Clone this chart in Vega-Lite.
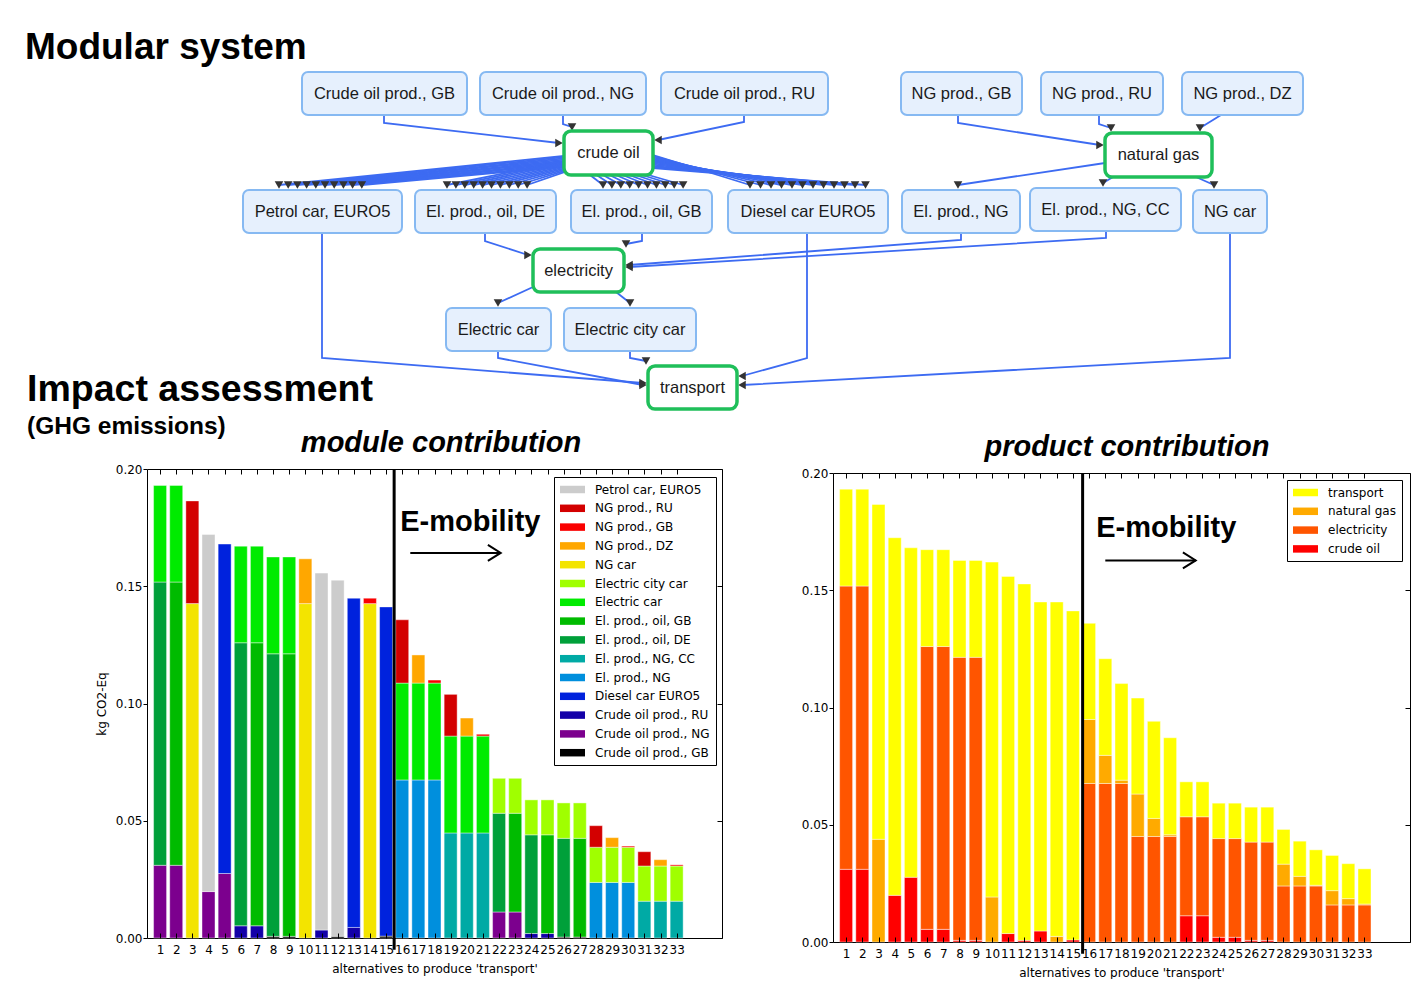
{
  "$schema": "https://vega.github.io/schema/vega-lite/v6.json",
  "padding": 0,
  "background": "white",
  "spacing": 9,
  "bounds": "flush",
  "config": {
    "view": {"stroke": "black", "strokeWidth": 1},
    "axis": {"labelFont": "DejaVu Sans", "titleFont": "DejaVu Sans", "labelFontSize": 12, "titleFontSize": 12, "labelColor": "black", "titleColor": "black", "titleFontWeight": "normal", "domain": false, "grid": false, "tickColor": "black", "tickWidth": 1, "labelOverlap": false, "labelFlush": false}
  },
  "datasets": {
    "modules": [
      {"alt": 1, "module": "Crude oil prod., NG", "kg": 0.031}, {"alt": 1, "module": "El. prod., oil, DE", "kg": 0.1208}, {"alt": 1, "module": "Electric car", "kg": 0.0412},
      {"alt": 2, "module": "Crude oil prod., NG", "kg": 0.031}, {"alt": 2, "module": "El. prod., oil, GB", "kg": 0.1208}, {"alt": 2, "module": "Electric car", "kg": 0.0412},
      {"alt": 3, "module": "NG car", "kg": 0.1426}, {"alt": 3, "module": "NG prod., RU", "kg": 0.0438},
      {"alt": 4, "module": "Crude oil prod., NG", "kg": 0.0198}, {"alt": 4, "module": "Petrol car, EURO5", "kg": 0.1523},
      {"alt": 5, "module": "Crude oil prod., NG", "kg": 0.0275}, {"alt": 5, "module": "Diesel car EURO5", "kg": 0.1405},
      {"alt": 6, "module": "Crude oil prod., RU", "kg": 0.0052}, {"alt": 6, "module": "El. prod., oil, DE", "kg": 0.1207}, {"alt": 6, "module": "Electric car", "kg": 0.0412},
      {"alt": 7, "module": "Crude oil prod., RU", "kg": 0.0052}, {"alt": 7, "module": "El. prod., oil, GB", "kg": 0.1207}, {"alt": 7, "module": "Electric car", "kg": 0.0412},
      {"alt": 8, "module": "Crude oil prod., GB", "kg": 0.0007}, {"alt": 8, "module": "El. prod., oil, DE", "kg": 0.1205}, {"alt": 8, "module": "Electric car", "kg": 0.0413},
      {"alt": 9, "module": "Crude oil prod., GB", "kg": 0.0007}, {"alt": 9, "module": "El. prod., oil, GB", "kg": 0.1205}, {"alt": 9, "module": "Electric car", "kg": 0.0413},
      {"alt": 10, "module": "NG car", "kg": 0.1426}, {"alt": 10, "module": "NG prod., DZ", "kg": 0.0191},
      {"alt": 11, "module": "Crude oil prod., RU", "kg": 0.0034}, {"alt": 11, "module": "Petrol car, EURO5", "kg": 0.1522},
      {"alt": 12, "module": "Crude oil prod., GB", "kg": 0.0007}, {"alt": 12, "module": "Petrol car, EURO5", "kg": 0.1519},
      {"alt": 13, "module": "Crude oil prod., RU", "kg": 0.0045}, {"alt": 13, "module": "Diesel car EURO5", "kg": 0.1404},
      {"alt": 14, "module": "NG car", "kg": 0.1426}, {"alt": 14, "module": "NG prod., GB", "kg": 0.0023},
      {"alt": 15, "module": "Crude oil prod., GB", "kg": 0.0008}, {"alt": 15, "module": "Diesel car EURO5", "kg": 0.1404},
      {"alt": 16, "module": "El. prod., NG", "kg": 0.0674}, {"alt": 16, "module": "Electric car", "kg": 0.0413}, {"alt": 16, "module": "NG prod., RU", "kg": 0.027},
      {"alt": 17, "module": "El. prod., NG", "kg": 0.0674}, {"alt": 17, "module": "Electric car", "kg": 0.0413}, {"alt": 17, "module": "NG prod., DZ", "kg": 0.012},
      {"alt": 18, "module": "El. prod., NG", "kg": 0.0674}, {"alt": 18, "module": "Electric car", "kg": 0.0413}, {"alt": 18, "module": "NG prod., GB", "kg": 0.0013},
      {"alt": 19, "module": "El. prod., NG, CC", "kg": 0.0448}, {"alt": 19, "module": "Electric car", "kg": 0.0413}, {"alt": 19, "module": "NG prod., RU", "kg": 0.0178},
      {"alt": 20, "module": "El. prod., NG, CC", "kg": 0.0448}, {"alt": 20, "module": "Electric car", "kg": 0.0413}, {"alt": 20, "module": "NG prod., DZ", "kg": 0.0077},
      {"alt": 21, "module": "El. prod., NG, CC", "kg": 0.0448}, {"alt": 21, "module": "Electric car", "kg": 0.0413}, {"alt": 21, "module": "NG prod., GB", "kg": 0.0008},
      {"alt": 22, "module": "Crude oil prod., NG", "kg": 0.0111}, {"alt": 22, "module": "El. prod., oil, DE", "kg": 0.0421}, {"alt": 22, "module": "Electric city car", "kg": 0.0149},
      {"alt": 23, "module": "Crude oil prod., NG", "kg": 0.0111}, {"alt": 23, "module": "El. prod., oil, GB", "kg": 0.0421}, {"alt": 23, "module": "Electric city car", "kg": 0.0149},
      {"alt": 24, "module": "Crude oil prod., RU", "kg": 0.0019}, {"alt": 24, "module": "El. prod., oil, DE", "kg": 0.0421}, {"alt": 24, "module": "Electric city car", "kg": 0.0149},
      {"alt": 25, "module": "Crude oil prod., RU", "kg": 0.0019}, {"alt": 25, "module": "El. prod., oil, GB", "kg": 0.0421}, {"alt": 25, "module": "Electric city car", "kg": 0.0149},
      {"alt": 26, "module": "Crude oil prod., GB", "kg": 0.0004}, {"alt": 26, "module": "El. prod., oil, DE", "kg": 0.0421}, {"alt": 26, "module": "Electric city car", "kg": 0.0151},
      {"alt": 27, "module": "Crude oil prod., GB", "kg": 0.0004}, {"alt": 27, "module": "El. prod., oil, GB", "kg": 0.0421}, {"alt": 27, "module": "Electric city car", "kg": 0.0151},
      {"alt": 28, "module": "El. prod., NG", "kg": 0.0237}, {"alt": 28, "module": "Electric city car", "kg": 0.015}, {"alt": 28, "module": "NG prod., RU", "kg": 0.0092},
      {"alt": 29, "module": "El. prod., NG", "kg": 0.0237}, {"alt": 29, "module": "Electric city car", "kg": 0.015}, {"alt": 29, "module": "NG prod., DZ", "kg": 0.0041},
      {"alt": 30, "module": "El. prod., NG", "kg": 0.0237}, {"alt": 30, "module": "Electric city car", "kg": 0.015}, {"alt": 30, "module": "NG prod., GB", "kg": 0.0005},
      {"alt": 31, "module": "El. prod., NG, CC", "kg": 0.0157}, {"alt": 31, "module": "Electric city car", "kg": 0.015}, {"alt": 31, "module": "NG prod., RU", "kg": 0.0061},
      {"alt": 32, "module": "El. prod., NG, CC", "kg": 0.0157}, {"alt": 32, "module": "Electric city car", "kg": 0.015}, {"alt": 32, "module": "NG prod., DZ", "kg": 0.0027},
      {"alt": 33, "module": "El. prod., NG, CC", "kg": 0.0157}, {"alt": 33, "module": "Electric city car", "kg": 0.015}, {"alt": 33, "module": "NG prod., GB", "kg": 0.0005}
    ],
    "products": [
      {"alt": 1, "product": "crude oil", "kg": 0.031}, {"alt": 1, "product": "electricity", "kg": 0.1208}, {"alt": 1, "product": "transport", "kg": 0.0413},
      {"alt": 2, "product": "crude oil", "kg": 0.031}, {"alt": 2, "product": "electricity", "kg": 0.1208}, {"alt": 2, "product": "transport", "kg": 0.0413},
      {"alt": 3, "product": "natural gas", "kg": 0.0438}, {"alt": 3, "product": "transport", "kg": 0.1428},
      {"alt": 4, "product": "crude oil", "kg": 0.0199}, {"alt": 4, "product": "transport", "kg": 0.1525},
      {"alt": 5, "product": "crude oil", "kg": 0.0276}, {"alt": 5, "product": "transport", "kg": 0.1405},
      {"alt": 6, "product": "crude oil", "kg": 0.0054}, {"alt": 6, "product": "electricity", "kg": 0.1206}, {"alt": 6, "product": "transport", "kg": 0.0413},
      {"alt": 7, "product": "crude oil", "kg": 0.0054}, {"alt": 7, "product": "electricity", "kg": 0.1206}, {"alt": 7, "product": "transport", "kg": 0.0413},
      {"alt": 8, "product": "crude oil", "kg": 0.0007}, {"alt": 8, "product": "electricity", "kg": 0.1207}, {"alt": 8, "product": "transport", "kg": 0.0413},
      {"alt": 9, "product": "crude oil", "kg": 0.0007}, {"alt": 9, "product": "electricity", "kg": 0.1207}, {"alt": 9, "product": "transport", "kg": 0.0413},
      {"alt": 10, "product": "natural gas", "kg": 0.0192}, {"alt": 10, "product": "transport", "kg": 0.1428},
      {"alt": 11, "product": "crude oil", "kg": 0.0036}, {"alt": 11, "product": "transport", "kg": 0.1523},
      {"alt": 12, "product": "crude oil", "kg": 0.0007}, {"alt": 12, "product": "transport", "kg": 0.152},
      {"alt": 13, "product": "crude oil", "kg": 0.0047}, {"alt": 13, "product": "transport", "kg": 0.1403},
      {"alt": 14, "product": "natural gas", "kg": 0.0024}, {"alt": 14, "product": "transport", "kg": 0.1426},
      {"alt": 15, "product": "crude oil", "kg": 0.0009}, {"alt": 15, "product": "transport", "kg": 0.1403},
      {"alt": 16, "product": "electricity", "kg": 0.0676}, {"alt": 16, "product": "natural gas", "kg": 0.0273}, {"alt": 16, "product": "transport", "kg": 0.041},
      {"alt": 17, "product": "electricity", "kg": 0.0676}, {"alt": 17, "product": "natural gas", "kg": 0.012}, {"alt": 17, "product": "transport", "kg": 0.0412},
      {"alt": 18, "product": "electricity", "kg": 0.0676}, {"alt": 18, "product": "natural gas", "kg": 0.0014}, {"alt": 18, "product": "transport", "kg": 0.0412},
      {"alt": 19, "product": "electricity", "kg": 0.045}, {"alt": 19, "product": "natural gas", "kg": 0.0181}, {"alt": 19, "product": "transport", "kg": 0.0409},
      {"alt": 20, "product": "electricity", "kg": 0.045}, {"alt": 20, "product": "natural gas", "kg": 0.0077}, {"alt": 20, "product": "transport", "kg": 0.0414},
      {"alt": 21, "product": "electricity", "kg": 0.045}, {"alt": 21, "product": "natural gas", "kg": 0.0007}, {"alt": 21, "product": "transport", "kg": 0.0414},
      {"alt": 22, "product": "crude oil", "kg": 0.0112}, {"alt": 22, "product": "electricity", "kg": 0.0422}, {"alt": 22, "product": "transport", "kg": 0.0149},
      {"alt": 23, "product": "crude oil", "kg": 0.0112}, {"alt": 23, "product": "electricity", "kg": 0.0422}, {"alt": 23, "product": "transport", "kg": 0.0149},
      {"alt": 24, "product": "crude oil", "kg": 0.002}, {"alt": 24, "product": "electricity", "kg": 0.0421}, {"alt": 24, "product": "transport", "kg": 0.0151},
      {"alt": 25, "product": "crude oil", "kg": 0.002}, {"alt": 25, "product": "electricity", "kg": 0.0421}, {"alt": 25, "product": "transport", "kg": 0.0151},
      {"alt": 26, "product": "crude oil", "kg": 0.0007}, {"alt": 26, "product": "electricity", "kg": 0.0419}, {"alt": 26, "product": "transport", "kg": 0.0149},
      {"alt": 27, "product": "crude oil", "kg": 0.0007}, {"alt": 27, "product": "electricity", "kg": 0.0419}, {"alt": 27, "product": "transport", "kg": 0.0149},
      {"alt": 28, "product": "electricity", "kg": 0.0239}, {"alt": 28, "product": "natural gas", "kg": 0.0093}, {"alt": 28, "product": "transport", "kg": 0.0148},
      {"alt": 29, "product": "electricity", "kg": 0.0239}, {"alt": 29, "product": "natural gas", "kg": 0.0041}, {"alt": 29, "product": "transport", "kg": 0.015},
      {"alt": 30, "product": "electricity", "kg": 0.0239}, {"alt": 30, "product": "natural gas", "kg": 0.0003}, {"alt": 30, "product": "transport", "kg": 0.0151},
      {"alt": 31, "product": "electricity", "kg": 0.0158}, {"alt": 31, "product": "natural gas", "kg": 0.0061}, {"alt": 31, "product": "transport", "kg": 0.015},
      {"alt": 32, "product": "electricity", "kg": 0.0158}, {"alt": 32, "product": "natural gas", "kg": 0.0027}, {"alt": 32, "product": "transport", "kg": 0.0149},
      {"alt": 33, "product": "electricity", "kg": 0.0158}, {"alt": 33, "product": "natural gas", "kg": 0.0004}, {"alt": 33, "product": "transport", "kg": 0.015}
    ],
    "nodes": [
      {"label": "Crude oil prod., GB", "kind": "process", "x0": 302, "x1": 467, "y0": 72, "y1": 115, "cx": 384.5, "cy": 94},
      {"label": "Crude oil prod., NG", "kind": "process", "x0": 480, "x1": 646, "y0": 72, "y1": 115, "cx": 563, "cy": 94},
      {"label": "Crude oil prod., RU", "kind": "process", "x0": 661, "x1": 828, "y0": 72, "y1": 115, "cx": 744.5, "cy": 94},
      {"label": "NG prod., GB", "kind": "process", "x0": 901, "x1": 1022, "y0": 72, "y1": 115, "cx": 961.5, "cy": 94},
      {"label": "NG prod., RU", "kind": "process", "x0": 1041, "x1": 1163, "y0": 72, "y1": 115, "cx": 1102, "cy": 94},
      {"label": "NG prod., DZ", "kind": "process", "x0": 1182, "x1": 1303, "y0": 72, "y1": 115, "cx": 1242.5, "cy": 94},
      {"label": "crude oil", "kind": "product", "x0": 564, "x1": 653, "y0": 131, "y1": 175, "cx": 608.5, "cy": 153},
      {"label": "natural gas", "kind": "product", "x0": 1105, "x1": 1212, "y0": 133, "y1": 177, "cx": 1158.5, "cy": 155},
      {"label": "Petrol car, EURO5", "kind": "process", "x0": 243, "x1": 402, "y0": 190, "y1": 233, "cx": 322.5, "cy": 212},
      {"label": "El. prod., oil, DE", "kind": "process", "x0": 415, "x1": 556, "y0": 190, "y1": 233, "cx": 485.5, "cy": 212},
      {"label": "El. prod., oil, GB", "kind": "process", "x0": 571, "x1": 712, "y0": 190, "y1": 233, "cx": 641.5, "cy": 212},
      {"label": "Diesel car EURO5", "kind": "process", "x0": 728, "x1": 888, "y0": 190, "y1": 233, "cx": 808, "cy": 212},
      {"label": "El. prod., NG", "kind": "process", "x0": 902, "x1": 1020, "y0": 190, "y1": 233, "cx": 961, "cy": 212},
      {"label": "El. prod., NG, CC", "kind": "process", "x0": 1030, "x1": 1181, "y0": 188, "y1": 231, "cx": 1105.5, "cy": 210},
      {"label": "NG car", "kind": "process", "x0": 1193, "x1": 1267, "y0": 190, "y1": 233, "cx": 1230, "cy": 212},
      {"label": "electricity", "kind": "product", "x0": 533, "x1": 624, "y0": 249, "y1": 292, "cx": 578.5, "cy": 271},
      {"label": "Electric car", "kind": "process", "x0": 446, "x1": 551, "y0": 308, "y1": 351, "cx": 498.5, "cy": 330},
      {"label": "Electric city car", "kind": "process", "x0": 564, "x1": 696, "y0": 308, "y1": 351, "cx": 630, "cy": 330},
      {"label": "transport", "kind": "product", "x0": 648, "x1": 737, "y0": 366, "y1": 409, "cx": 692.5, "cy": 388}
    ],
    "edges": [
      {"e": "e1", "s": 0, "x": 384, "y": 115}, {"e": "e1", "s": 1, "x": 384, "y": 123}, {"e": "e1", "s": 2, "x": 559, "y": 143, "h": "right"},
      {"e": "e2", "s": 0, "x": 563, "y": 115}, {"e": "e2", "s": 1, "x": 563, "y": 124}, {"e": "e2", "s": 2, "x": 572, "y": 127, "h": "down"},
      {"e": "e3", "s": 0, "x": 744, "y": 115}, {"e": "e3", "s": 1, "x": 744, "y": 122}, {"e": "e3", "s": 2, "x": 658, "y": 140, "h": "left"},
      {"e": "e4", "s": 0, "x": 958, "y": 115}, {"e": "e4", "s": 1, "x": 958, "y": 123}, {"e": "e4", "s": 2, "x": 1100, "y": 145, "h": "right"},
      {"e": "e5", "s": 0, "x": 1099, "y": 115}, {"e": "e5", "s": 1, "x": 1099, "y": 124}, {"e": "e5", "s": 2, "x": 1111, "y": 128, "h": "down"},
      {"e": "e6", "s": 0, "x": 1221, "y": 115}, {"e": "e6", "s": 1, "x": 1200, "y": 128, "h": "down"},
      {"e": "e7", "s": 0, "x": 1105, "y": 163}, {"e": "e7", "s": 1, "x": 958, "y": 185, "h": "down"},
      {"e": "e8", "s": 0, "x": 1113, "y": 177}, {"e": "e8", "s": 1, "x": 1103, "y": 183, "h": "down"},
      {"e": "e9", "s": 0, "x": 1196, "y": 177}, {"e": "e9", "s": 1, "x": 1214, "y": 185, "h": "down"},
      {"e": "e10", "s": 0, "x": 485, "y": 233}, {"e": "e10", "s": 1, "x": 485, "y": 241}, {"e": "e10", "s": 2, "x": 528, "y": 255, "h": "right"},
      {"e": "e11", "s": 0, "x": 642, "y": 233}, {"e": "e11", "s": 1, "x": 642, "y": 241}, {"e": "e11", "s": 2, "x": 626, "y": 244, "h": "down"},
      {"e": "e12", "s": 0, "x": 961, "y": 233}, {"e": "e12", "s": 1, "x": 961, "y": 240}, {"e": "e12", "s": 2, "x": 629, "y": 265, "h": "left"},
      {"e": "e13", "s": 0, "x": 1106, "y": 231}, {"e": "e13", "s": 1, "x": 1106, "y": 238}, {"e": "e13", "s": 2, "x": 629, "y": 267, "h": "left"},
      {"e": "e14", "s": 0, "x": 533, "y": 287}, {"e": "e14", "s": 1, "x": 498, "y": 303, "h": "down"},
      {"e": "e15", "s": 0, "x": 616, "y": 292}, {"e": "e15", "s": 1, "x": 630, "y": 303, "h": "down"},
      {"e": "e16", "s": 0, "x": 322, "y": 233}, {"e": "e16", "s": 1, "x": 322, "y": 358}, {"e": "e16", "s": 2, "x": 643, "y": 383, "h": "right"},
      {"e": "e17", "s": 0, "x": 498, "y": 351}, {"e": "e17", "s": 1, "x": 498, "y": 358}, {"e": "e17", "s": 2, "x": 643, "y": 385, "h": "right"},
      {"e": "e18", "s": 0, "x": 630, "y": 351}, {"e": "e18", "s": 1, "x": 630, "y": 358}, {"e": "e18", "s": 2, "x": 646, "y": 361, "h": "down"},
      {"e": "e19", "s": 0, "x": 807, "y": 233}, {"e": "e19", "s": 1, "x": 807, "y": 358}, {"e": "e19", "s": 2, "x": 742, "y": 376, "h": "left"},
      {"e": "e20", "s": 0, "x": 1230, "y": 233}, {"e": "e20", "s": 1, "x": 1230, "y": 358}, {"e": "e20", "s": 2, "x": 742, "y": 385, "h": "left"},
      {"e": "p0", "s": 0, "x": 564, "y": 156}, {"e": "p0", "s": 1, "x": 279, "y": 185, "h": "down"},
      {"e": "p1", "s": 0, "x": 564, "y": 157.2}, {"e": "p1", "s": 1, "x": 288.2, "y": 185, "h": "down"},
      {"e": "p2", "s": 0, "x": 564, "y": 158.4}, {"e": "p2", "s": 1, "x": 297.4, "y": 185, "h": "down"},
      {"e": "p3", "s": 0, "x": 564, "y": 159.6}, {"e": "p3", "s": 1, "x": 306.6, "y": 185, "h": "down"},
      {"e": "p4", "s": 0, "x": 564, "y": 160.8}, {"e": "p4", "s": 1, "x": 315.8, "y": 185, "h": "down"},
      {"e": "p5", "s": 0, "x": 564, "y": 162}, {"e": "p5", "s": 1, "x": 325, "y": 185, "h": "down"},
      {"e": "p6", "s": 0, "x": 564, "y": 163.2}, {"e": "p6", "s": 1, "x": 334.2, "y": 185, "h": "down"},
      {"e": "p7", "s": 0, "x": 564, "y": 164.4}, {"e": "p7", "s": 1, "x": 343.4, "y": 185, "h": "down"},
      {"e": "p8", "s": 0, "x": 564, "y": 165.6}, {"e": "p8", "s": 1, "x": 352.6, "y": 185, "h": "down"},
      {"e": "p9", "s": 0, "x": 564, "y": 166.8}, {"e": "p9", "s": 1, "x": 361.8, "y": 185, "h": "down"},
      {"e": "d0", "s": 0, "x": 565, "y": 161}, {"e": "d0", "s": 1, "x": 447, "y": 185, "h": "down"},
      {"e": "d1", "s": 0, "x": 565, "y": 162.2}, {"e": "d1", "s": 1, "x": 455.9, "y": 185, "h": "down"},
      {"e": "d2", "s": 0, "x": 565, "y": 163.4}, {"e": "d2", "s": 1, "x": 464.8, "y": 185, "h": "down"},
      {"e": "d3", "s": 0, "x": 565, "y": 164.6}, {"e": "d3", "s": 1, "x": 473.7, "y": 185, "h": "down"},
      {"e": "d4", "s": 0, "x": 565, "y": 165.8}, {"e": "d4", "s": 1, "x": 482.6, "y": 185, "h": "down"},
      {"e": "d5", "s": 0, "x": 565, "y": 167}, {"e": "d5", "s": 1, "x": 491.5, "y": 185, "h": "down"},
      {"e": "d6", "s": 0, "x": 565, "y": 168.2}, {"e": "d6", "s": 1, "x": 500.4, "y": 185, "h": "down"},
      {"e": "d7", "s": 0, "x": 565, "y": 169.4}, {"e": "d7", "s": 1, "x": 509.3, "y": 185, "h": "down"},
      {"e": "d8", "s": 0, "x": 565, "y": 170.6}, {"e": "d8", "s": 1, "x": 518.2, "y": 185, "h": "down"},
      {"e": "d9", "s": 0, "x": 565, "y": 171.8}, {"e": "d9", "s": 1, "x": 527.1, "y": 185, "h": "down"},
      {"e": "g0", "s": 0, "x": 590, "y": 175}, {"e": "g0", "s": 1, "x": 603, "y": 185, "h": "down"},
      {"e": "g1", "s": 0, "x": 596.5, "y": 175}, {"e": "g1", "s": 1, "x": 611.9, "y": 185, "h": "down"},
      {"e": "g2", "s": 0, "x": 603, "y": 175}, {"e": "g2", "s": 1, "x": 620.8, "y": 185, "h": "down"},
      {"e": "g3", "s": 0, "x": 609.5, "y": 175}, {"e": "g3", "s": 1, "x": 629.7, "y": 185, "h": "down"},
      {"e": "g4", "s": 0, "x": 616, "y": 175}, {"e": "g4", "s": 1, "x": 638.6, "y": 185, "h": "down"},
      {"e": "g5", "s": 0, "x": 622.5, "y": 175}, {"e": "g5", "s": 1, "x": 647.5, "y": 185, "h": "down"},
      {"e": "g6", "s": 0, "x": 629, "y": 175}, {"e": "g6", "s": 1, "x": 656.4, "y": 185, "h": "down"},
      {"e": "g7", "s": 0, "x": 635.5, "y": 175}, {"e": "g7", "s": 1, "x": 665.3, "y": 185, "h": "down"},
      {"e": "g8", "s": 0, "x": 642, "y": 175}, {"e": "g8", "s": 1, "x": 674.2, "y": 185, "h": "down"},
      {"e": "g9", "s": 0, "x": 648.5, "y": 175}, {"e": "g9", "s": 1, "x": 683.1, "y": 185, "h": "down"},
      {"e": "k0", "s": 0, "x": 653, "y": 155}, {"e": "k0", "s": 1, "x": 750, "y": 185, "h": "down"},
      {"e": "k1", "s": 0, "x": 653, "y": 156.2}, {"e": "k1", "s": 1, "x": 760.5, "y": 185, "h": "down"},
      {"e": "k2", "s": 0, "x": 653, "y": 157.4}, {"e": "k2", "s": 1, "x": 771, "y": 185, "h": "down"},
      {"e": "k3", "s": 0, "x": 653, "y": 158.6}, {"e": "k3", "s": 1, "x": 781.5, "y": 185, "h": "down"},
      {"e": "k4", "s": 0, "x": 653, "y": 159.8}, {"e": "k4", "s": 1, "x": 792, "y": 185, "h": "down"},
      {"e": "k5", "s": 0, "x": 653, "y": 161}, {"e": "k5", "s": 1, "x": 802.5, "y": 185, "h": "down"},
      {"e": "k6", "s": 0, "x": 653, "y": 162.2}, {"e": "k6", "s": 1, "x": 813, "y": 185, "h": "down"},
      {"e": "k7", "s": 0, "x": 653, "y": 163.4}, {"e": "k7", "s": 1, "x": 823.5, "y": 185, "h": "down"},
      {"e": "k8", "s": 0, "x": 653, "y": 164.6}, {"e": "k8", "s": 1, "x": 834, "y": 185, "h": "down"},
      {"e": "k9", "s": 0, "x": 653, "y": 165.8}, {"e": "k9", "s": 1, "x": 844.5, "y": 185, "h": "down"},
      {"e": "k10", "s": 0, "x": 653, "y": 167}, {"e": "k10", "s": 1, "x": 855, "y": 185, "h": "down"},
      {"e": "k11", "s": 0, "x": 653, "y": 168.2}, {"e": "k11", "s": 1, "x": 865.5, "y": 185, "h": "down"}
    ]
  },
  "vconcat": [
    {
      "width": 1419,
      "height": 460,
      "view": {"stroke": null},
      "layer": [
        {
          "data": {"name": "edges"},
          "mark": {"type": "line", "color": "#3d6bf2", "strokeWidth": 1.8},
          "encoding": {
            "x": {"field": "x", "type": "quantitative", "scale": {"domain": [0, 1419], "nice": false, "zero": false}, "axis": null},
            "y": {"field": "y", "type": "quantitative", "scale": {"domain": [0, 460], "nice": false, "zero": false, "reverse": true}, "axis": null},
            "detail": {"field": "e", "type": "nominal"},
            "order": {"field": "s", "type": "quantitative"}
          }
        },
        {
          "data": {"name": "edges"},
          "transform": [{"filter": "isValid(datum.h)"}],
          "mark": {"type": "point", "filled": true, "color": "#333333", "size": 75, "opacity": 1},
          "encoding": {
            "x": {"field": "x", "type": "quantitative"},
            "y": {"field": "y", "type": "quantitative"},
            "shape": {"field": "h", "type": "nominal", "scale": {"domain": ["down", "right", "left"], "range": ["triangle-down", "triangle-right", "triangle-left"]}, "legend": null}
          }
        },
        {
          "data": {"name": "nodes"},
          "transform": [{"filter": "datum.kind == 'process'"}],
          "mark": {"type": "rect", "fill": "#e6f0fd", "stroke": "#86b9f2", "strokeWidth": 2, "cornerRadius": 6},
          "encoding": {
            "x": {"field": "x0", "type": "quantitative"}, "x2": {"field": "x1"},
            "y": {"field": "y0", "type": "quantitative"}, "y2": {"field": "y1"}
          }
        },
        {
          "data": {"name": "nodes"},
          "transform": [{"filter": "datum.kind == 'product'"}],
          "mark": {"type": "rect", "fill": "white", "stroke": "#1fbf5a", "strokeWidth": 3.5, "cornerRadius": 7},
          "encoding": {
            "x": {"field": "x0", "type": "quantitative"}, "x2": {"field": "x1"},
            "y": {"field": "y0", "type": "quantitative"}, "y2": {"field": "y1"}
          }
        },
        {
          "data": {"name": "nodes"},
          "mark": {"type": "text", "font": "Liberation Sans", "fontSize": 16.5, "color": "#1a1a1a", "align": "center", "baseline": "middle"},
          "encoding": {
            "x": {"field": "cx", "type": "quantitative"},
            "y": {"field": "cy", "type": "quantitative"},
            "text": {"field": "label"}
          }
        },
        {
          "data": {"values": [{}]},
          "mark": {"type": "text", "text": "Modular system", "font": "Liberation Sans", "fontWeight": "bold", "fontSize": 37, "align": "left", "baseline": "alphabetic", "color": "black"},
          "encoding": {"x": {"datum": 25, "type": "quantitative"}, "y": {"datum": 59, "type": "quantitative"}}
        },
        {
          "data": {"values": [{}]},
          "mark": {"type": "text", "text": "Impact assessment", "font": "Liberation Sans", "fontWeight": "bold", "fontSize": 37.5, "align": "left", "baseline": "alphabetic", "color": "black"},
          "encoding": {"x": {"datum": 27, "type": "quantitative"}, "y": {"datum": 401, "type": "quantitative"}}
        },
        {
          "data": {"values": [{}]},
          "mark": {"type": "text", "text": "(GHG emissions)", "font": "Liberation Sans", "fontWeight": "bold", "fontSize": 24.5, "align": "left", "baseline": "alphabetic", "color": "black"},
          "encoding": {"x": {"datum": 27, "type": "quantitative"}, "y": {"datum": 434, "type": "quantitative"}}
        },
        {
          "data": {"values": [{}]},
          "mark": {"type": "text", "text": "module contribution", "font": "Liberation Sans", "fontWeight": "bold", "fontStyle": "italic", "fontSize": 29, "align": "center", "baseline": "alphabetic", "color": "black"},
          "encoding": {"x": {"datum": 441, "type": "quantitative"}, "y": {"datum": 452, "type": "quantitative"}}
        },
        {
          "data": {"values": [{}]},
          "mark": {"type": "text", "text": "product contribution", "font": "Liberation Sans", "fontWeight": "bold", "fontStyle": "italic", "fontSize": 29, "align": "center", "baseline": "alphabetic", "color": "black"},
          "encoding": {"x": {"datum": 1127, "type": "quantitative"}, "y": {"datum": 456, "type": "quantitative"}}
        }
      ]
    },
    {
      "spacing": 111,
      "bounds": "flush",
      "resolve": {"scale": {"color": "independent"}, "legend": {"color": "independent"}},
      "hconcat": [
        {
          "width": 36,
          "height": 1,
          "view": {"stroke": null},
          "data": {"values": [{}]},
          "mark": {"type": "point", "opacity": 0}
        },
        {
          "width": 575,
          "height": 469,
          "resolve": {"axis": {"x": "independent", "y": "independent"}},
          "layer": [
            {
              "data": {"name": "modules"},
              "mark": {"type": "bar", "size": 13, "orient": "vertical", "stroke": "white", "strokeWidth": 0.6, "strokeOpacity": 0.7},
              "encoding": {
                "x": {"field": "alt", "type": "quantitative", "scale": {"domain": [0.5, 35.5], "nice": false, "zero": false},
                      "axis": {"orient": "bottom", "values": [1,2,3,4,5,6,7,8,9,10,11,12,13,14,15,16,17,18,19,20,21,22,23,24,25,26,27,28,29,30,31,32,33], "format": "d", "title": "alternatives to produce 'transport'", "tickSize": -5, "labelPadding": 11, "titlePadding": 8, "zindex": 1}},
                "y": {"field": "kg", "type": "quantitative", "stack": "zero", "scale": {"domain": [0, 0.2], "nice": false},
                      "axis": {"values": [0, 0.05, 0.1, 0.15, 0.2], "format": ".2f", "title": "kg CO2-Eq", "tickSize": 4, "labelPadding": 1, "titlePadding": 7}},
                "color": {"field": "module", "type": "nominal",
                          "scale": {"domain": ["Petrol car, EURO5", "NG prod., RU", "NG prod., GB", "NG prod., DZ", "NG car", "Electric city car", "Electric car", "El. prod., oil, GB", "El. prod., oil, DE", "El. prod., NG, CC", "El. prod., NG", "Diesel car EURO5", "Crude oil prod., RU", "Crude oil prod., NG", "Crude oil prod., GB"],
                                    "range": ["#cccccc", "#d30000", "#fa0000", "#ffa700", "#f3e400", "#a0ff00", "#00eb00", "#00bb00", "#00a03a", "#00aaa5", "#008fdd", "#0022dd", "#1300a8", "#7c008e", "#000000"]},
                          "legend": {"orient": "none", "legendX": 407, "legendY": 8, "direction": "vertical", "title": null, "symbolType": "M-2,-0.6H2V0.6H-2Z", "symbolSize": 156, "symbolStrokeWidth": 0, "symbolOpacity": 1, "symbolOffset": 6, "labelOffset": 16, "labelFont": "DejaVu Sans", "labelFontSize": 12, "labelColor": "black", "strokeColor": "black", "fillColor": "white", "padding": 6, "rowPadding": 5.8, "labelLimit": 300}},
                "order": {"field": "module", "sort": "ascending"}
              }
            },
            {
              "data": {"values": [{}]},
              "mark": {"type": "point", "opacity": 0},
              "encoding": {
                "x": {"datum": 1, "type": "quantitative", "axis": {"orient": "top", "values": [1,2,3,4,5,6,7,8,9,10,11,12,13,14,15,16,17,18,19,20,21,22,23,24,25,26,27,28,29,30,31,32,33], "labels": false, "title": null, "tickSize": -5, "zindex": 1}},
                "y": {"datum": 0, "type": "quantitative", "axis": {"orient": "right", "values": [0, 0.05, 0.1, 0.15, 0.2], "labels": false, "title": null, "tickSize": -5, "zindex": 1}}
              }
            },
            {
              "data": {"values": [{}]},
              "mark": {"type": "rule", "color": "black", "strokeWidth": 3},
              "encoding": {"x": {"datum": 15.5, "type": "quantitative", "axis": null}, "y": {"datum": 0.2, "type": "quantitative", "axis": null}, "y2": {"datum": -0.005}}
            },
            {
              "data": {"values": [{}]},
              "mark": {"type": "text", "text": "E-mobility", "font": "Liberation Sans", "fontWeight": "bold", "fontSize": 29, "align": "center", "baseline": "alphabetic", "color": "black"},
              "encoding": {"x": {"datum": 20.22, "type": "quantitative", "axis": null}, "y": {"datum": 0.1736, "type": "quantitative", "axis": null}}
            },
            {
              "data": {"values": [{}]},
              "mark": {"type": "rule", "color": "black", "strokeWidth": 2},
              "encoding": {"x": {"datum": 16.5, "type": "quantitative", "axis": null}, "x2": {"datum": 22.1}, "y": {"datum": 0.1642, "type": "quantitative", "axis": null}}
            },
            {
              "data": {"values": [{}]},
              "mark": {"type": "point", "shape": "M-1.6,-1L0,0L-1.6,1", "filled": false, "color": "black", "strokeWidth": 2, "size": 256, "opacity": 1},
              "encoding": {"x": {"datum": 22.1, "type": "quantitative", "axis": null}, "y": {"datum": 0.1642, "type": "quantitative", "axis": null}}
            }
          ]
        },
        {
          "spacing": 3,
          "bounds": "flush",
          "resolve": {"legend": {"color": "independent"}},
          "vconcat": [
            {
              "width": 1,
              "height": 1,
              "view": {"stroke": null},
              "data": {"values": [{}]},
              "mark": {"type": "point", "opacity": 0}
            },
            {
              "width": 577,
              "height": 469,
              "resolve": {"axis": {"x": "independent", "y": "independent"}},
              "layer": [
                {
                  "data": {"name": "products"},
                  "mark": {"type": "bar", "size": 13, "orient": "vertical", "stroke": "white", "strokeWidth": 0.6, "strokeOpacity": 0.7},
                  "encoding": {
                    "x": {"field": "alt", "type": "quantitative", "scale": {"domain": [0.5, 35.5], "nice": false, "zero": false},
                          "axis": {"orient": "bottom", "values": [1,2,3,4,5,6,7,8,9,10,11,12,13,14,15,16,17,18,19,20,21,22,23,24,25,26,27,28,29,30,31,32,33], "format": "d", "title": "alternatives to produce 'transport'", "tickSize": -5, "labelPadding": 11, "titlePadding": 8, "zindex": 1}},
                    "y": {"field": "kg", "type": "quantitative", "stack": "zero", "scale": {"domain": [0, 0.2], "nice": false},
                          "axis": {"values": [0, 0.05, 0.1, 0.15, 0.2], "format": ".2f", "title": null, "tickSize": 4, "labelPadding": 1}},
                    "color": {"field": "product", "type": "nominal",
                              "scale": {"domain": ["transport", "natural gas", "electricity", "crude oil"], "range": ["#ffff00", "#ffaa00", "#ff5500", "#ff0000"]},
                              "legend": {"orient": "none", "legendX": 454, "legendY": 7, "direction": "vertical", "title": null, "symbolType": "M-2,-0.6H2V0.6H-2Z", "symbolSize": 156, "symbolStrokeWidth": 0, "symbolOpacity": 1, "symbolOffset": 6, "labelOffset": 16, "labelFont": "DejaVu Sans", "labelFontSize": 12, "labelColor": "black", "strokeColor": "black", "fillColor": "white", "padding": 6, "rowPadding": 5.8, "labelLimit": 300}},
                    "order": {"field": "product", "sort": "ascending"}
                  }
                },
                {
                  "data": {"values": [{}]},
                  "mark": {"type": "point", "opacity": 0},
                  "encoding": {
                    "x": {"datum": 1, "type": "quantitative", "axis": {"orient": "top", "values": [1,2,3,4,5,6,7,8,9,10,11,12,13,14,15,16,17,18,19,20,21,22,23,24,25,26,27,28,29,30,31,32,33], "labels": false, "title": null, "tickSize": -5, "zindex": 1}},
                    "y": {"datum": 0, "type": "quantitative", "axis": {"orient": "right", "values": [0, 0.05, 0.1, 0.15, 0.2], "labels": false, "title": null, "tickSize": -5, "zindex": 1}}
                  }
                },
                {
                  "data": {"values": [{}]},
                  "mark": {"type": "rule", "color": "black", "strokeWidth": 3},
                  "encoding": {"x": {"datum": 15.6, "type": "quantitative", "axis": null}, "y": {"datum": 0.2, "type": "quantitative", "axis": null}, "y2": {"datum": -0.005}}
                },
                {
                  "data": {"values": [{}]},
                  "mark": {"type": "text", "text": "E-mobility", "font": "Liberation Sans", "fontWeight": "bold", "fontSize": 29, "align": "center", "baseline": "alphabetic", "color": "black"},
                  "encoding": {"x": {"datum": 20.76, "type": "quantitative", "axis": null}, "y": {"datum": 0.1725, "type": "quantitative", "axis": null}}
                },
                {
                  "data": {"values": [{}]},
                  "mark": {"type": "rule", "color": "black", "strokeWidth": 2},
                  "encoding": {"x": {"datum": 17.0, "type": "quantitative", "axis": null}, "x2": {"datum": 22.58}, "y": {"datum": 0.1627, "type": "quantitative", "axis": null}}
                },
                {
                  "data": {"values": [{}]},
                  "mark": {"type": "point", "shape": "M-1.6,-1L0,0L-1.6,1", "filled": false, "color": "black", "strokeWidth": 2, "size": 256, "opacity": 1},
                  "encoding": {"x": {"datum": 22.58, "type": "quantitative", "axis": null}, "y": {"datum": 0.1627, "type": "quantitative", "axis": null}}
                }
              ]
            }
          ]
        }
      ]
    }
  ]
}
